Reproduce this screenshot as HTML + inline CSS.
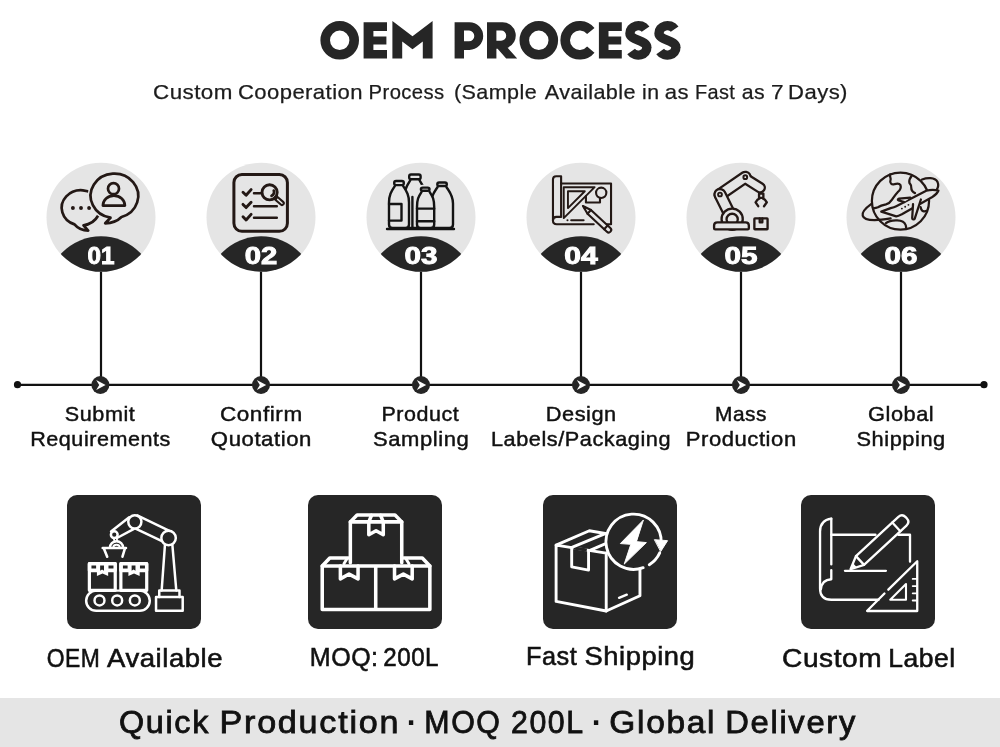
<!DOCTYPE html>
<html>
<head>
<meta charset="utf-8">
<title>OEM Process</title>
<style>
  html, body { margin: 0; padding: 0; background: #ffffff; }
  body { width: 1000px; height: 747px; overflow: hidden; font-family: "Liberation Sans", sans-serif; }
  svg { display: block; position: absolute; left: 0; top: 0; will-change: transform; }
  text { font-family: "Liberation Sans", sans-serif; }
  .title { font-weight: bold; font-size: 49px; fill: #262626; stroke: #262626; stroke-width: 1.6px; stroke-linejoin: round; }
  .sub { font-size: 20.4px; letter-spacing: 0.4px; fill: #1c1c1c; stroke: #1c1c1c; stroke-width: 0.25px; }
  .lbl { font-size: 19.8px; letter-spacing: 0.5px; fill: #111111; stroke: #111111; stroke-width: 0.42px; }
  .num { font-weight: bold; font-size: 23px; fill: #ffffff; stroke: #ffffff; stroke-width: 0.9px; }
  .box { font-size: 25px; letter-spacing: 0.5px; fill: #111111; stroke: #111111; stroke-width: 0.55px; }
  .ban { font-size: 31px; letter-spacing: 1.6px; fill: #111111; stroke: #111111; stroke-width: 0.8px; }
  .bdot { font-size: 31px; font-weight: bold; fill: #111111; }
  .ic { fill: none; stroke: #231815; stroke-linecap: round; stroke-linejoin: round; }
  .wi { fill: none; stroke: #ffffff; stroke-linecap: round; stroke-linejoin: round; }
</style>
</head>
<body>
<svg width="1000" height="747" viewBox="0 0 1000 747">
  <defs>
    <clipPath id="c1"><circle cx="101" cy="217.3" r="54.5"/></clipPath>
    <clipPath id="c2"><circle cx="261" cy="217.3" r="54.5"/></clipPath>
    <clipPath id="c3"><circle cx="421" cy="217.3" r="54.5"/></clipPath>
    <clipPath id="c4"><circle cx="581" cy="217.3" r="54.5"/></clipPath>
    <clipPath id="c5"><circle cx="741" cy="217.3" r="54.5"/></clipPath>
    <clipPath id="c6"><circle cx="901" cy="217.3" r="54.5"/></clipPath>
  </defs>

  <!-- ===== title ===== -->
  <g id="title" fill="#262626" stroke="none">
    <!-- O -->
    <circle cx="339.7" cy="40.3" r="14.5" fill="none" stroke="#262626" stroke-width="9.6"/>
    <!-- E -->
    <path d="M363.6,22.3 H387 V31 H373.4 V36.5 H386.4 V44.4 H373.4 V50 H387 V58.6 H363.6 Z"/>
    <!-- M -->
    <path d="M392.4,58.6 V21 L412.5,36.2 L432.6,21 V58.6 H422.8 V41.4 L412.5,49.2 L402.2,41.4 V58.6 Z"/>
    <!-- P -->
    <path fill-rule="evenodd" d="M454.6,22.3 H469.4 A13.8,13.8 0 0 1 469.4,49.9 H464 V58.6 H454.6 Z M464,30.6 H469 A5.3,5.3 0 0 1 469,41.2 H464 Z"/>
    <!-- R -->
    <path fill-rule="evenodd" d="M487,22.3 H502.6 A13.2,13.2 0 0 1 507.6,47.7 L517.2,58.6 H506.2 L497.6,48.7 H496.4 V58.6 H487 Z M496.4,30.6 H501.1 A5.1,5.1 0 0 1 501.1,40.8 H496.4 Z"/>
    <!-- O -->
    <circle cx="538.8" cy="40.3" r="14.5" fill="none" stroke="#262626" stroke-width="9.6"/>
    <!-- C -->
    <path d="M590.8,31 A14.5,14.5 0 1 0 590.8,49.6" fill="none" stroke="#262626" stroke-width="9.6"/>
    <!-- E -->
    <path d="M598.9,22.3 H621.8 V31 H608.5 V36.5 H621.2 V44.4 H608.5 V50 H621.8 V58.6 H598.9 Z"/>
    <!-- S S -->
    <path id="gS" d="M645.6,29.1 A8.45,7.3 0 0 0 629.95,33.2 C629.95,40.2 646.8,40.4 646.8,47.4 A8.45,7.3 0 0 1 631.1,51.5" fill="none" stroke="#262626" stroke-width="9.4"/>
    <path d="M645.6,29.1 A8.45,7.3 0 0 0 629.95,33.2 C629.95,40.2 646.8,40.4 646.8,47.4 A8.45,7.3 0 0 1 631.1,51.5" fill="none" stroke="#262626" stroke-width="9.4" transform="translate(29.05,0)"/>
  </g>

  <!-- ===== timeline lines ===== -->
  <g stroke="#111111" stroke-width="2.2" fill="none">
    <line x1="17" y1="384.8" x2="984" y2="384.8"/>
    <line x1="101" y1="270" x2="101" y2="384"/>
    <line x1="261" y1="270" x2="261" y2="384"/>
    <line x1="421" y1="270" x2="421" y2="384"/>
    <line x1="581" y1="270" x2="581" y2="384"/>
    <line x1="741" y1="270" x2="741" y2="384"/>
    <line x1="901" y1="270" x2="901" y2="384"/>
  </g>
  <circle cx="17.5" cy="384.7" r="3.6" fill="#111111"/>
  <circle cx="984" cy="384.7" r="3.6" fill="#111111"/>
  <g transform="translate(100.4,385)"><circle cx="0" cy="0" r="9" fill="#262626"/><path d="M-4.2,-5 L5.2,0 L-4.2,5 L-1.2,0 Z" fill="#ffffff"/></g>
  <g transform="translate(261,385)"><circle cx="0" cy="0" r="9" fill="#262626"/><path d="M-4.2,-5 L5.2,0 L-4.2,5 L-1.2,0 Z" fill="#ffffff"/></g>
  <g transform="translate(421,385)"><circle cx="0" cy="0" r="9" fill="#262626"/><path d="M-4.2,-5 L5.2,0 L-4.2,5 L-1.2,0 Z" fill="#ffffff"/></g>
  <g transform="translate(581,385)"><circle cx="0" cy="0" r="9" fill="#262626"/><path d="M-4.2,-5 L5.2,0 L-4.2,5 L-1.2,0 Z" fill="#ffffff"/></g>
  <g transform="translate(741,385)"><circle cx="0" cy="0" r="9" fill="#262626"/><path d="M-4.2,-5 L5.2,0 L-4.2,5 L-1.2,0 Z" fill="#ffffff"/></g>
  <g transform="translate(901,385)"><circle cx="0" cy="0" r="9" fill="#262626"/><path d="M-4.2,-5 L5.2,0 L-4.2,5 L-1.2,0 Z" fill="#ffffff"/></g>

  <!-- ===== step circles ===== -->
  <g id="circles">
    <circle cx="101" cy="217.3" r="54.5" fill="#e5e5e5"/>
    <circle cx="101" cy="290.8" r="54.5" fill="#262626" clip-path="url(#c1)"/>
    <circle cx="261" cy="217.3" r="54.5" fill="#e5e5e5"/>
    <circle cx="261" cy="290.8" r="54.5" fill="#262626" clip-path="url(#c2)"/>
    <circle cx="421" cy="217.3" r="54.5" fill="#e5e5e5"/>
    <circle cx="421" cy="290.8" r="54.5" fill="#262626" clip-path="url(#c3)"/>
    <circle cx="581" cy="217.3" r="54.5" fill="#e5e5e5"/>
    <circle cx="581" cy="290.8" r="54.5" fill="#262626" clip-path="url(#c4)"/>
    <circle cx="741" cy="217.3" r="54.5" fill="#e5e5e5"/>
    <circle cx="741" cy="290.8" r="54.5" fill="#262626" clip-path="url(#c5)"/>
    <circle cx="901" cy="217.3" r="54.5" fill="#e5e5e5"/>
    <circle cx="901" cy="290.8" r="54.5" fill="#262626" clip-path="url(#c6)"/>
  </g>
  <g id="nums">
    <text class="num" x="101" y="263.5" text-anchor="middle" textLength="27" lengthAdjust="spacingAndGlyphs">01</text>
    <text class="num" x="261" y="263.5" text-anchor="middle" textLength="32.5" lengthAdjust="spacingAndGlyphs">02</text>
    <text class="num" x="421" y="263.5" text-anchor="middle" textLength="33" lengthAdjust="spacingAndGlyphs">03</text>
    <text class="num" x="581" y="263.5" text-anchor="middle" textLength="33.5" lengthAdjust="spacingAndGlyphs">04</text>
    <text class="num" x="741" y="263.5" text-anchor="middle" textLength="33" lengthAdjust="spacingAndGlyphs">05</text>
    <text class="num" x="901" y="263.5" text-anchor="middle" textLength="33" lengthAdjust="spacingAndGlyphs">06</text>
  </g>


  <!-- icon 01 : chat bubbles -->
  <g class="ic" stroke-width="2.7">
    <path d="M83.5,225.25 L88.2,230.6 C82,230.6 77.5,228 74.5,224.4 A19.2,17.6 0 1 1 83.5,225.25 Z"/>
    <circle cx="72.9" cy="208" r="1.95" fill="#231815" stroke="none"/>
    <circle cx="81" cy="208" r="1.95" fill="#231815" stroke="none"/>
    <circle cx="89.1" cy="208" r="1.95" fill="#231815" stroke="none"/>
    <path d="M110.5,217.7 L105.2,223.3 C112,223.2 118,220.5 121.5,217 A23.8,22.2 0 1 0 110.5,217.7 Z" fill="#e5e5e5" stroke="#e5e5e5" stroke-width="5.6"/>
    <path d="M110.5,217.7 L105.2,223.3 C112,223.2 118,220.5 121.5,217 A23.8,22.2 0 1 0 110.5,217.7 Z"/>
    <circle cx="113.5" cy="188.7" r="5.5"/>
    <path d="M102.9,205.6 A11,10 0 0 1 124.9,205.6 Z"/>
  </g>

  <!-- icon 02 : checklist + magnifier -->
  <g class="ic" stroke-width="2.9">
    <rect x="233.9" y="174.5" width="53.5" height="56.8" rx="8" ry="8" stroke-width="3"/>
    <path d="M243,192.3 L246.1,195.3 L251.1,189.6"/>
    <path d="M243,204.4 L246.1,207.6 L251.1,202.3"/>
    <path d="M243,216.8 L246.1,220 L251.1,214.4"/>
    <path d="M254,193.2 H261.5 M254,206.2 H276.8 M254,217.7 H276.8" stroke-width="2.5"/>
    <circle cx="269.6" cy="192.3" r="7.6" fill="#e5e5e5"/>
    <path d="M273.8,190.6 A4.2,4.2 0 0 1 271.6,195.8" stroke-width="2.8"/>
    <path d="M276.4,198.4 L282,203.2" stroke-width="5.6"/>
    <path d="M277.6,199.4 L282,203.2" stroke="#e5e5e5" stroke-width="1.5"/>
  </g>

  <!-- icon 03 : bottles -->
  <g class="ic" style="fill:#e5e5e5;stroke:#141414;stroke-width:2.4px">
    <path d="M410.29999999999995,180.2 C407.09999999999997,185.2 403.9,190 403.9,198 V224.5 Q403.9,228 407.4,228 H422.4 Q425.9,228 425.9,224.5 V198 C425.9,190 422.7,185.2 419.5,180.2"/><rect x="409.2" y="174.5" width="11.4" height="4.7" rx="1.8" ry="1.8"/>
    <path d="M437.6,187 C434.40000000000003,192 431,195.5 431,203.5 V224.5 Q431,228 434.5,228 H449.5 Q453,228 453,224.5 V203.5 C453,195.5 449.59999999999997,192 446.4,187"/><rect x="437.3" y="182.5" width="9.5" height="3.5" rx="1.8" ry="1.8"/>
    <path d="M412.4,197 V228" fill="none"/>
    <path d="M394.8,186.1 C391.6,191.1 389,194.5 389,202.5 V224.5 Q389,228 392.5,228 H405.5 Q409,228 409,224.5 V202.5 C409,194.5 406.4,191.1 403.2,186.1"/><rect x="394.2" y="181" width="9.6" height="4.1" rx="1.8" ry="1.8"/><path d="M389,204 H401.5 V220.6 H389" fill="none"/>
    <rect x="420.9" y="187.6" width="8.6" height="3.1" rx="1.8" ry="1.8" style="stroke:#e5e5e5;stroke-width:5.6px"/><path d="M421.6,191.8 C418.40000000000003,196.8 417.0,199 417.0,207 V224.5 Q417.0,228 420.5,228 H430.70000000000005 Q434.20000000000005,228 434.20000000000005,224.5 V207 C434.20000000000005,199 432.8,196.8 429.6,191.8"/><rect x="420.9" y="187.6" width="8.6" height="3.1" rx="1.8" ry="1.8"/><path d="M417,208.6 H434.2 M417,221.2 H434.2" fill="none"/>
    <path d="M387,229 H454" fill="none" stroke-width="2.4"/>
  </g>


  <!-- icon 04 : blueprint, set-square, pencil -->
  <g class="ic" transform="translate(545,168) scale(0.093677)" stroke-width="22.5">
    <path d="M172,165 V88 H120 Q85,88 85,122 V560 Q85,600 125,600 H520"/>
    <path d="M172,165 V522 H122 Q85,522 85,560"/>
    <path d="M172,165 H705 V600 H640"/>
    <path d="M200,205 H530 L200,535 Z" stroke-width="20"/>
    <path d="M245,248 H425 L245,428 Z" stroke-width="20"/>
    <path d="M437,300 V368 H587 V322"/>
    <circle cx="600" cy="265" r="55" fill="#e5e5e5"/>
    <circle cx="240" cy="558" r="11" fill="#231815" stroke="none"/>
    <path d="M280,558 H412" stroke-width="22"/>
    <g transform="translate(405,405) rotate(43)">
      <path d="M0,0 L92,-27 H375 A27,27 0 0 1 375,27 H92 Z" fill="#e5e5e5"/>
      <path d="M92,-27 V27 M335,-27 V27"/>
      <path d="M0,0 L34,-10 V10 Z" fill="#231815" stroke-width="8"/>
    </g>
  </g>

  <!-- icon 05 : robot arm + box -->
  <g class="ic" transform="translate(705,165) scale(0.093677)" stroke-width="25">
    <path d="M160,315 L430,130" stroke-width="139"/>
    <path d="M426,140 L588,242" stroke-width="125"/>
    <path d="M160,315 L430,130" stroke="#e5e5e5" stroke-width="91"/>
    <path d="M426,140 L588,242" stroke="#e5e5e5" stroke-width="75"/>
    <circle cx="430" cy="130" r="20" stroke-width="21"/>
    <path d="M160,315 L290,578" stroke-width="141"/>
    <path d="M160,315 L290,578" stroke="#e5e5e5" stroke-width="93"/>
    <circle cx="160" cy="315" r="20" stroke-width="21"/>
    <circle cx="290" cy="578" r="113" fill="#e5e5e5"/>
    <circle cx="290" cy="580" r="60" fill="#e5e5e5"/>
    <path d="M132,612 H433 Q468,612 468,647 V676 Q468,688 456,688 H109 Q97,688 97,676 V647 Q97,612 132,612 Z" fill="#e5e5e5"/>
    <rect x="577" y="305" width="46" height="46" fill="#e5e5e5"/>
    <path d="M580,360 Q560,365 540,398 L568,440 M620,360 Q640,365 660,398 L630,440"/>
    <rect x="527" y="570" width="141" height="116" rx="6" ry="6"/>
    <path d="M584,570 V612 H612 V570"/>
  </g>

  <!-- icon 06 : globe + plane -->
  <g class="ic" transform="translate(855,165) scale(0.09375)" stroke-width="24">
    <circle cx="485" cy="385" r="305"/>
    <path d="M375,100 C365,125 390,140 378,165 C368,190 390,215 420,205 C445,198 470,190 485,215 C495,245 480,270 455,290 C430,315 415,340 395,370 C380,395 365,410 330,420 C295,428 270,435 245,450 C225,458 210,460 195,462"/>
    <path d="M605,115 C585,140 575,165 580,190 C590,205 605,215 600,240 C600,265 615,290 640,300"/>
    <path d="M330,620 C355,598 400,588 450,590 C500,592 530,610 540,640 C545,655 545,662 545,668"/>
    <path d="M700,450 C705,470 715,490 725,492 C740,495 755,493 765,490"/>
    <path d="M175,415 C120,455 70,500 82,540 C95,590 200,600 380,570"/>
    <path d="M715,155 C770,135 850,130 880,180 C895,215 885,245 870,265"/>
    <path d="M890,272 C850,262 800,262 760,275 L440,440 C420,450 400,455 380,460 L280,497 L440,548 C460,545 480,535 500,525 L820,345 C850,325 880,300 890,272 Z" fill="#e5e5e5"/>
    <path d="M590,348 L470,358 C455,362 452,372 465,378 L525,395" fill="#e5e5e5"/>
    <path d="M703,368 L638,570 C632,584 612,584 610,566 L619,418" fill="#e5e5e5"/>
    <circle cx="500" cy="465" r="10" fill="#231815" stroke="none"/>
    <circle cx="535" cy="445" r="10" fill="#231815" stroke="none"/>
    <circle cx="570" cy="425" r="10" fill="#231815" stroke="none"/>
  </g>

  <!-- ===== step labels ===== -->

  <!-- ===== feature boxes ===== -->
  <g id="boxes" fill="#262626">
    <rect x="67" y="495" width="134" height="134" rx="10" ry="10"/>
    <rect x="308" y="495" width="134" height="134" rx="10" ry="10"/>
    <rect x="543" y="495" width="134" height="134" rx="10" ry="10"/>
    <rect x="801" y="495" width="134" height="134" rx="10" ry="10"/>
  </g>


  <!-- box icon 1 : robot + conveyor -->
  <g class="wi" transform="translate(77,505) scale(0.160643)" stroke-width="15.5">
    <rect x="57" y="533" width="396" height="125" rx="62.5" ry="62.5"/>
    <circle cx="140" cy="594" r="31"/><circle cx="250" cy="594" r="31"/><circle cx="360" cy="594" r="31"/>
    <g transform="translate(0,0)">
      <rect x="77" y="365" width="161" height="166" stroke-width="20"/>
      <rect x="77" y="365" width="161" height="43" fill="#ffffff" stroke-width="20"/>
      <path d="M124,408 V442 L159,426 L194,442 V408 Z" fill="#ffffff" stroke="none"/>
      <path d="M90,377 H119 V396 H90 Z M196,377 H227 V396 H196 Z M144,377 H168 V410 L156,402 L144,410 Z" fill="#262626" stroke="none"/>
    </g>
    <g transform="translate(196,0)">
      <rect x="77" y="365" width="161" height="166" stroke-width="20"/>
      <rect x="77" y="365" width="161" height="43" fill="#ffffff" stroke-width="20"/>
      <path d="M124,408 V442 L159,426 L194,442 V408 Z" fill="#ffffff" stroke="none"/>
      <path d="M90,377 H119 V396 H90 Z M196,377 H227 V396 H196 Z M144,377 H168 V410 L156,402 L144,410 Z" fill="#262626" stroke="none"/>
    </g>
    <rect x="492" y="572" width="166" height="86"/>
    <path d="M512,572 V532 H638 V572"/>
    <path d="M527,532 L548,240 M618,532 L593,240"/>
    <path d="M375,65 L585,165 M345,138 L555,238"/>
    <path d="M325,76 L212,165 M352,150 L252,204"/>
    <circle cx="570" cy="205" r="45" fill="#262626"/>
    <circle cx="360" cy="105" r="41" fill="#262626"/>
    <circle cx="232" cy="185" r="21" fill="#262626"/>
    <path d="M228,208 L236,228 M246,206 L252,226" stroke-width="11"/>
    <path d="M205,266 A41,40 0 0 1 287,266"/>
    <path d="M226,264 A20,17 0 0 1 266,264" stroke-width="12"/>
    <path d="M160,268 H305 M166,268 L188,322 M299,268 L283,322" stroke-width="16"/>
  </g>

  <!-- box icon 2 : stacked boxes -->
  <g class="wi" transform="translate(315,505) scale(0.160643)" stroke-width="22">
    <path d="M220,360 V105 H540 V360"/>
    <path d="M220,105 L262,62 H498 L540,105"/>
    <path d="M335,105 V185 L380,160 L425,185 V105 M335,105 L352,64 M425,105 L408,64"/>
    <path d="M45,380 H715 V650 H45 Z M378,380 V650"/>
    <path d="M45,380 L92,330 H208 M715,380 L668,330 H552"/>
    <path d="M158,380 V460 L212,430 L268,460 V380 M495,380 V460 L550,430 L605,460 V380"/>
    <path d="M180,366 L197,338 M585,366 L568,338" stroke-width="18"/>
  </g>

  <!-- box icon 3 : parcel + fast arrow -->
  <g class="wi" transform="translate(550,505) scale(0.160643)" stroke-width="18">
    <path d="M38,250 V600 L350,660 V300 Z"/>
    <path d="M350,660 L560,565 V215 L350,300"/>
    <path d="M38,250 L245,160 L560,215"/>
    <path d="M146,267.3 L229,280.6" stroke="#262626" stroke-width="21" stroke-linecap="butt"/>
    <path d="M135,265 V385 L240,405 V284"/>
    <path d="M140,262 L340,180 M245,284 L430,205"/>
    <path d="M430,578 L478,558" stroke-width="15"/>
    <circle cx="522" cy="228" r="172" fill="#262626" stroke="none"/>
    <path d="M580,390 A172,172 0 1 1 692,240"/>
    <path d="M683,298 A172,172 0 0 1 618,372"/>
    <path d="M652,216 L732,222 L690,288 Z" fill="#ffffff" stroke-width="6"/>
    <path d="M580,95 L438,240 L503,245 L462,368 L600,234 L540,228 Z" fill="#ffffff" stroke-width="6"/>
  </g>

  <!-- box icon 4 : blueprint + pencil + set-square -->
  <g class="wi" transform="translate(808,505) scale(0.160643)" stroke-width="14.5">
    <path d="M145,85 Q75,95 75,165 V520 Q75,590 145,590 H440"/>
    <path d="M145,85 V370 M145,405 V462 Q85,465 80,525"/>
    <path d="M145,185 H420 M562,185 H635 V352"/>
    <path d="M230,410 H485"/>
    <g transform="translate(265,400) rotate(-42.8)">
      <path d="M0,0 L80,-37 H440 Q472,-37 472,-5 V5 Q472,37 440,37 H80 Z" fill="#262626"/>
      <path d="M80,-37 V37 M388,-37 V37"/>
      <path d="M0,0 L34,-15 V15 Z" fill="#ffffff" stroke-width="6"/>
    </g>
    <path d="M370,657 L476,551 M500,527 L680,350 V660 H368" fill="none"/>
    <path d="M610,492 V590 H512 Z" stroke-width="13"/>
    <path d="M652,460 H678 M652,505 H678 M652,550 H678 M652,595 H678" stroke-width="12"/>
  </g>


  <!-- ===== banner ===== -->
  <rect x="0" y="698" width="1000" height="49" fill="#e5e5e5"/>
  <text class="bdot" x="411.9" y="733" text-anchor="middle">·</text>
  <text class="bdot" x="596.9" y="733" text-anchor="middle">·</text>
  <!-- WORDS-BEGIN -->
  <g id="l1a">
    <text class="lbl" x="64.89" y="420.6" textLength="70.42" lengthAdjust="spacingAndGlyphs">Submit</text>
  </g>
  <g id="l1b">
    <text class="lbl" x="30.20" y="445.6" textLength="140.72" lengthAdjust="spacingAndGlyphs">Requirements</text>
  </g>
  <g id="l2a">
    <text class="lbl" x="219.94" y="420.6" textLength="82.84" lengthAdjust="spacingAndGlyphs">Confirm</text>
  </g>
  <g id="l2b">
    <text class="lbl" x="210.86" y="445.6" textLength="101.07" lengthAdjust="spacingAndGlyphs">Quotation</text>
  </g>
  <g id="l3a">
    <text class="lbl" x="381.45" y="420.6" textLength="77.79" lengthAdjust="spacingAndGlyphs">Product</text>
  </g>
  <g id="l3b">
    <text class="lbl" x="373.04" y="445.6" textLength="96.22" lengthAdjust="spacingAndGlyphs">Sampling</text>
  </g>
  <g id="l4a">
    <text class="lbl" x="545.76" y="420.6" textLength="70.98" lengthAdjust="spacingAndGlyphs">Design</text>
  </g>
  <g id="l4b">
    <text class="lbl" x="491.00" y="445.6" textLength="180.00" lengthAdjust="spacingAndGlyphs">Labels/Packaging</text>
  </g>
  <g id="l5a">
    <text class="lbl" x="715.00" y="420.6" textLength="52.00" lengthAdjust="spacingAndGlyphs">Mass</text>
  </g>
  <g id="l5b">
    <text class="lbl" x="685.78" y="445.6" textLength="110.95" lengthAdjust="spacingAndGlyphs">Production</text>
  </g>
  <g id="l6a">
    <text class="lbl" x="868.03" y="420.6" textLength="66.23" lengthAdjust="spacingAndGlyphs">Global</text>
  </g>
  <g id="l6b">
    <text class="lbl" x="856.54" y="445.6" textLength="89.22" lengthAdjust="spacingAndGlyphs">Shipping</text>
  </g>
  <g id="sub">
    <text class="sub" x="153.04" y="98.9" textLength="79.73" lengthAdjust="spacingAndGlyphs">Custom</text>
    <text class="sub" x="237.93" y="98.9" textLength="124.95" lengthAdjust="spacingAndGlyphs">Cooperation</text>
    <text class="sub" x="368.59" y="98.9" textLength="75.95" lengthAdjust="spacingAndGlyphs">Process</text>
    <text class="sub" x="453.94" y="98.9" textLength="83.12" lengthAdjust="spacingAndGlyphs">(Sample</text>
    <text class="sub" x="544.76" y="98.9" textLength="91.24" lengthAdjust="spacingAndGlyphs">Available</text>
    <text class="sub" x="642.01" y="98.9" textLength="17.39" lengthAdjust="spacingAndGlyphs">in</text>
    <text class="sub" x="664.86" y="98.9" textLength="24.17" lengthAdjust="spacingAndGlyphs">as</text>
    <text class="sub" x="694.96" y="98.9" textLength="40.28" lengthAdjust="spacingAndGlyphs">Fast</text>
    <text class="sub" x="741.86" y="98.9" textLength="23.31" lengthAdjust="spacingAndGlyphs">as</text>
    <text class="sub" x="771.00" y="98.9" textLength="13.00" lengthAdjust="spacingAndGlyphs">7</text>
    <text class="sub" x="788.09" y="98.9" textLength="59.82" lengthAdjust="spacingAndGlyphs">Days)</text>
  </g>
  <g id="b1">
    <text class="box" x="46.84" y="667.2" textLength="53.45" lengthAdjust="spacingAndGlyphs">OEM</text>
    <text class="box" x="107.00" y="667.2" textLength="116.10" lengthAdjust="spacingAndGlyphs">Available</text>
  </g>
  <g id="b2">
    <text class="box" x="309.83" y="665.6" textLength="68.72" lengthAdjust="spacingAndGlyphs">MOQ:</text>
    <text class="box" x="383.30" y="665.6" textLength="55.73" lengthAdjust="spacingAndGlyphs">200L</text>
  </g>
  <g id="b3">
    <text class="box" x="526.00" y="664.5" textLength="51.29" lengthAdjust="spacingAndGlyphs">Fast</text>
    <text class="box" x="584.58" y="664.5" textLength="110.72" lengthAdjust="spacingAndGlyphs">Shipping</text>
  </g>
  <g id="b4">
    <text class="box" x="782.05" y="667.2" textLength="100.11" lengthAdjust="spacingAndGlyphs">Custom</text>
    <text class="box" x="888.18" y="667.2" textLength="67.47" lengthAdjust="spacingAndGlyphs">Label</text>
  </g>
  <g id="ban">
    <text class="ban" x="119.00" y="732.7" textLength="91.00" lengthAdjust="spacingAndGlyphs">Quick</text>
    <text class="ban" x="219.50" y="732.7" textLength="180.72" lengthAdjust="spacingAndGlyphs">Production</text>
    <text class="ban" x="424.29" y="732.7" textLength="77.22" lengthAdjust="spacingAndGlyphs">MOQ</text>
    <text class="ban" x="511.05" y="732.7" textLength="73.58" lengthAdjust="spacingAndGlyphs">200L</text>
    <text class="ban" x="609.24" y="732.7" textLength="107.03" lengthAdjust="spacingAndGlyphs">Global</text>
    <text class="ban" x="725.24" y="732.7" textLength="131.72" lengthAdjust="spacingAndGlyphs">Delivery</text>
  </g>
  <!-- WORDS-END -->
</svg>
</body>
</html>
